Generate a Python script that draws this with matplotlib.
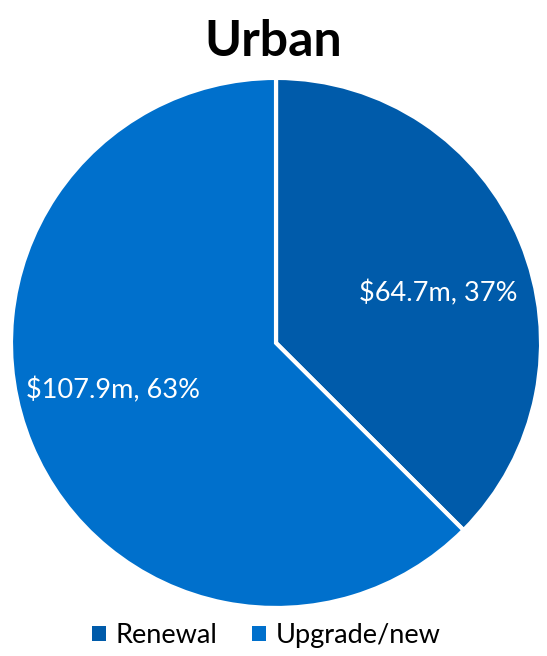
import numpy as np
import matplotlib
matplotlib.use("Agg")
import matplotlib.pyplot as plt
from matplotlib.patches import Patch

plt.rcParams['font.family'] = ['Lato', 'DejaVu Sans']

# funding split, $m
categories = ["Renewal", "Upgrade/new"]
values = [64.7, 107.9]
pcts = [37, 63]
colors = ["#005BAA", "#0070CC"]

fig = plt.figure(figsize=(5.47, 6.56), dpi=100)
ax = fig.add_axes([0.0201, 0.0732, 0.969, 0.808])

wedges, _ = ax.pie(values, colors=colors, startangle=90, counterclock=False,
                   wedgeprops=dict(edgecolor="white", linewidth=3))
ax.set_xlim(-1, 1)
ax.set_ylim(-1, 1)
ax.set_aspect("auto")

# data labels inside each slice, nudged toward horizontal
nudge = [-5.5, -6.5]
for w, v, p, n in zip(wedges, values, pcts, nudge):
    ang = np.deg2rad((w.theta1 + w.theta2) / 2 + n)
    r = 0.64
    ax.text(r * np.cos(ang), r * np.sin(ang), f"${v}m, {p}%",
            ha="center", va="center", color="white", fontsize=19.5)

fig.text(0.5, 0.937, "Urban", ha="center", va="center",
         fontsize=36, fontweight="bold")

handles = [Patch(facecolor=c, edgecolor="none") for c in colors]
fig.legend(handles, categories, loc="center", bbox_to_anchor=(0.487, 0.031),
           ncol=2, frameon=False, fontsize=19.5, handlelength=0.5,
           handleheight=0.5, handletextpad=0.35, columnspacing=1.3)

fig.savefig("out.png", dpi=100)
